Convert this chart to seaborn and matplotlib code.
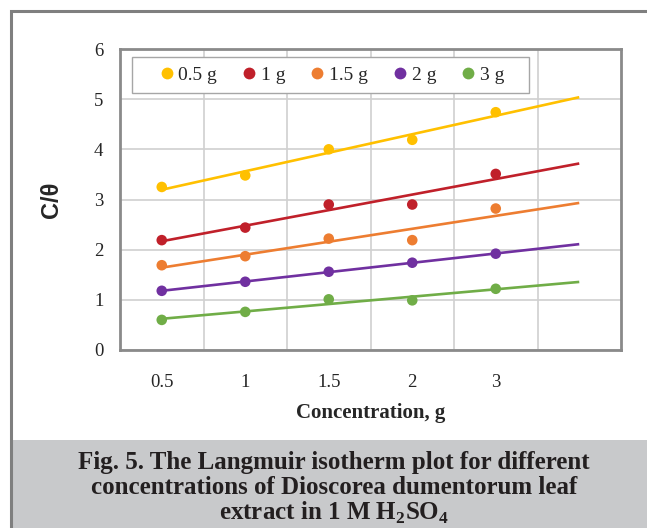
import numpy as np
import pandas as pd
import matplotlib
matplotlib.use("Agg")
import matplotlib.pyplot as plt
from matplotlib.patches import Rectangle
from matplotlib.lines import Line2D
import seaborn as sns

# ---- data ----
concentrations = ["0.5", "1", "1.5", "2", "3"]
series_names = ["0.5 g", "1 g", "1.5 g", "2 g", "3 g"]
y_05g = [3.25, 3.48, 4.00, 4.19, 4.74]
y_1g = [2.19, 2.44, 2.90, 2.90, 3.51]
y_15g = [1.69, 1.87, 2.22, 2.19, 2.82]
y_2g = [1.18, 1.36, 1.56, 1.74, 1.92]
y_3g = [0.60, 0.76, 1.01, 0.99, 1.22]
y_ticks = [0, 1, 2, 3, 4, 5, 6]
x_label = "Concentration, g"
y_label = "C/\u03b8"
caption_lines = ["Fig. 5. The Langmuir isotherm plot for different",
                 "concentrations of Dioscorea dumentorum leaf",
                 r"extract in 1 M H$_\mathbf{2}$SO$_\mathbf{4}$"]

colors = ["#FFC000", "#C0202A", "#ED7D31", "#7030A0", "#70AD47"]
all_y = [y_05g, y_1g, y_15g, y_2g, y_3g]

sns.set_theme(style="white")
plt.rcParams["font.family"] = ["Liberation Serif", "DejaVu Serif"]
plt.rcParams["mathtext.fontset"] = "custom"
plt.rcParams["mathtext.rm"] = "Liberation Serif"
plt.rcParams["mathtext.bf"] = "Liberation Serif:bold"

rows = []
for name, ys in zip(series_names, all_y):
    for i, (c, v) in enumerate(zip(concentrations, ys)):
        rows.append({"idx": i, "conc": c, "value": v, "series": name})
df = pd.DataFrame(rows)

fig = plt.figure(figsize=(6.47, 5.28), dpi=100)
W, H = 647, 528

# figure frame and caption background
fig.patches.append(Rectangle((12 / W, 0), (W - 12) / W, (528 - 440) / H,
                             transform=fig.transFigure, facecolor="#C8C9CB",
                             edgecolor="none", zorder=0))
fig.patches.append(Rectangle((10.5 / W, -0.05), 1.1, (H - 11.5) / H + 0.05,
                             transform=fig.transFigure, facecolor="none",
                             edgecolor="#7F7F7F", linewidth=2.2, zorder=1))

ax = fig.add_axes([120 / W, 1 - 350 / H, (621 - 120) / W, (350 - 49) / H])

palette = dict(zip(series_names, colors))

# trendlines (linear fit, forecast forward one category)
for name, ys in zip(series_names, all_y):
    x = np.arange(len(ys))
    k, b = np.polyfit(x, ys, 1)
    xt = np.array([0, len(ys)])
    ax.plot(xt, k * xt + b, color=palette[name], lw=1.9, zorder=2,
            solid_capstyle="butt")

sns.scatterplot(data=df, x="idx", y="value", hue="series", palette=palette,
                s=58, edgecolor="none", ax=ax, zorder=3, legend=False)

ax.set_xlim(-0.5, 5.5)
ax.set_ylim(0, 6)
ax.set_yticks(y_ticks)
ax.set_yticklabels([str(t) for t in y_ticks], fontsize=13.5)
ax.set_xticks(range(len(concentrations)))
ax.set_xticklabels(concentrations, fontsize=13.5)
ax.set_xticks(np.arange(0.5, 5.0, 1.0), minor=True)
ax.tick_params(axis="both", which="both", length=0)
ax.tick_params(axis="x", pad=17)
ax.tick_params(axis="y", pad=12)
ax.grid(False)
ax.yaxis.grid(True, color="#D0D0D0", lw=1.2)
ax.xaxis.grid(True, which="minor", color="#D0D0D0", lw=1.2)
ax.set_axisbelow(True)
for s in ax.spines.values():
    s.set_color("#8A8A8A")
    s.set_linewidth(2.0)
    s.set_visible(True)

ax.set_xlabel(x_label, fontsize=15, fontweight="bold", labelpad=9)
ax.set_ylabel(y_label, fontsize=17, fontweight="bold",
              family=["Liberation Sans", "DejaVu Sans"], labelpad=22)

# legend frame (drawn separately, Excel-style centered entries)
def px_to_ax(xp, yp):
    return (xp - 120) / (621 - 120), (350 - yp) / (350 - 49)

lx0, ly0 = px_to_ax(132, 93)
lx1, ly1 = px_to_ax(529, 57)
ax.add_patch(Rectangle((lx0, ly0), lx1 - lx0, ly1 - ly0, transform=ax.transAxes,
                       facecolor="white", edgecolor="#A6A6A6", lw=1.0, zorder=4))
handles = [Line2D([0], [0], marker="o", color="none", markerfacecolor=c,
                  markeredgecolor="none", markersize=8.5) for c in colors]
leg = ax.legend(handles, series_names, ncol=5, loc="center",
                bbox_to_anchor=((lx0 + lx1) / 2, (ly0 + ly1) / 2),
                frameon=False, fontsize=14, handletextpad=0.1,
                columnspacing=1.15, handlelength=1.0, borderaxespad=0)
leg.set_zorder(5)

ys_cap = [462, 488, 513]
for t, yy in zip(caption_lines, ys_cap):
    fig.text(334 / W, 1 - yy / H, t, ha="center", va="center",
             fontsize=18, fontweight="bold", color="#231F20")

fig.savefig("out.png", dpi=100)
